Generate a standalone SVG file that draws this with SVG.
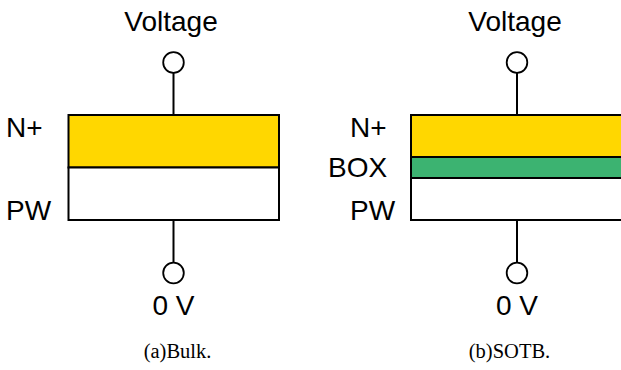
<svg xmlns="http://www.w3.org/2000/svg" width="621" height="370" viewBox="0 0 621 370">
  <style>
    .lbl { font-family: "Liberation Sans", Arial, sans-serif; font-size: 28px; fill: #000; }
    .cap { font-family: "Liberation Serif", "Times New Roman", serif; font-size: 20.5px; fill: #000; }
    .layer { stroke: #000; stroke-width: 2; }
    .wire { stroke: #000; stroke-width: 2; fill: none; }
    .term { stroke: #000; stroke-width: 1.8; fill: #fff; }
  </style>
  <rect width="621" height="370" fill="#fff"/>

  <!-- (a) Bulk -->
  <g id="bulk-connectors">
    <line class="wire" x1="173.5" y1="73" x2="173.5" y2="115"/>
    <line class="wire" x1="173.5" y1="220" x2="173.5" y2="262.5"/>
  </g>
  <g id="bulk-nplus">
    <rect class="layer" x="68.5" y="115" width="210.5" height="52.5" fill="#FFD700"/>
  </g>
  <g id="bulk-pw">
    <rect class="layer" x="68.5" y="167.5" width="210.5" height="52.5" fill="#fff"/>
  </g>
  <g id="bulk-vterm">
    <circle class="term" cx="173.5" cy="62.5" r="10.3"/>
    <text class="lbl" x="171" y="31" text-anchor="middle">Voltage</text>
  </g>
  <g id="bulk-gnd">
    <circle class="term" cx="173.5" cy="273" r="10.3"/>
    <text class="lbl" x="173.5" y="315" text-anchor="middle">0 V</text>
  </g>
  <g id="bulk-labels">
    <text class="lbl" x="6" y="137">N+</text>
    <text class="lbl" x="6" y="219.5">PW</text>
    <text class="cap" x="177.5" y="358" text-anchor="middle">(a)Bulk.</text>
  </g>

  <!-- (b) SOTB -->
  <g id="sotb-connectors">
    <line class="wire" x1="517" y1="73" x2="517" y2="115"/>
    <line class="wire" x1="517" y1="220" x2="517" y2="262.5"/>
  </g>
  <g id="sotb-nplus">
    <rect class="layer" x="411" y="115" width="215" height="42" fill="#FFD700"/>
  </g>
  <g id="sotb-box">
    <rect class="layer" x="411" y="157" width="215" height="21" fill="#3CB371"/>
  </g>
  <g id="sotb-pw">
    <rect class="layer" x="411" y="178" width="215" height="42" fill="#fff"/>
  </g>
  <g id="sotb-vterm">
    <circle class="term" cx="517" cy="62.5" r="10.3"/>
    <text class="lbl" x="515" y="31" text-anchor="middle">Voltage</text>
  </g>
  <g id="sotb-gnd">
    <circle class="term" cx="517" cy="273" r="10.3"/>
    <text class="lbl" x="517" y="315" text-anchor="middle">0 V</text>
  </g>
  <g id="sotb-labels">
    <text class="lbl" x="350" y="137">N+</text>
    <text class="lbl" x="328" y="176.5">BOX</text>
    <text class="lbl" x="350" y="219.5">PW</text>
    <text class="cap" x="509.5" y="358" text-anchor="middle">(b)SOTB.</text>
  </g>
</svg>
